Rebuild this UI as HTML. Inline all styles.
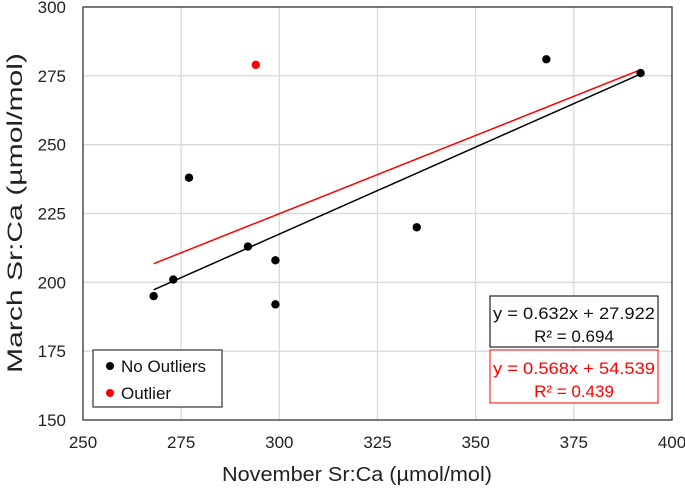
<!DOCTYPE html>
<html><head><meta charset="utf-8"><style>
body{margin:0;background:#fff;}
text{font-family:"Liberation Sans",sans-serif;}
</style></head><body>
<svg id="chart" width="685" height="490" xmlns="http://www.w3.org/2000/svg">
<g id="grid"></g>
<g id="ticks"></g>
<g id="lines"></g>
<g id="pts"></g>
<rect x="83" y="7" width="589" height="413" fill="none" stroke="#333" stroke-width="1.3"/>
<text x="357" y="481" font-size="20" text-anchor="middle" fill="#222" textLength="270" lengthAdjust="spacingAndGlyphs">November Sr:Ca (µmol/mol)</text>
<text transform="translate(22,213) rotate(-90)" font-size="21" text-anchor="middle" fill="#222" textLength="320" lengthAdjust="spacingAndGlyphs">March Sr:Ca (µmol/mol)</text>
<g>
<rect x="93" y="350" width="129" height="57" fill="#fff" stroke="#333" stroke-width="1.2"/>
<circle cx="110" cy="366" r="4" fill="#000"/>
<text x="121" y="372" font-size="17" fill="#111">No Outliers</text>
<circle cx="110" cy="393" r="4" fill="#f00"/>
<text x="121" y="399" font-size="17" fill="#111">Outlier</text>
</g>
<g>
<rect x="490" y="296" width="168" height="51" fill="#fff" stroke="#222" stroke-width="1.2"/>
<text x="574" y="319" font-size="17" text-anchor="middle" fill="#111" textLength="162" lengthAdjust="spacingAndGlyphs">y = 0.632x + 27.922</text>
<text x="574" y="342" font-size="17" text-anchor="middle" fill="#111">R² = 0.694</text>
</g>
<g>
<rect x="490" y="350" width="168" height="53" fill="#fff" stroke="#f00" stroke-width="1"/>
<text x="574" y="374" font-size="17" text-anchor="middle" fill="#f00" textLength="162" lengthAdjust="spacingAndGlyphs">y = 0.568x + 54.539</text>
<text x="574" y="397" font-size="17" text-anchor="middle" fill="#f00">R² = 0.439</text>
</g>
</svg>
<script>
const xTicks=[250,275,300,325,350,375,400];
const yTicks=[150,175,200,225,250,275,300];
const blackX=[268,273,277,292,299,299,335,368,392];
const blackY=[195,201,238,213,208,192,220,281,276];
const redX=[294];
const redY=[279];
const fitBlack=[0.632,27.922];
const fitRed=[0.568,54.539];
const fitRange=[268,392];
const NS="http://www.w3.org/2000/svg";
function sx(v){return 83+(v-250)/150*589;}
function sy(v){return 420-(v-150)/150*413;}
function mk(tag,attrs,parent){const e=document.createElementNS(NS,tag);for(const k in attrs)e.setAttribute(k,attrs[k]);document.getElementById(parent).appendChild(e);return e;}
xTicks.forEach(t=>{
 if(t>250&&t<400){const g=mk('line',{x1:sx(t),x2:sx(t),y1:7,y2:420,stroke:'#d9d9d9','stroke-width':1.3},'grid');
 
 }
 const l=mk('text',{x:sx(t),y:448,'font-size':17,'text-anchor':'middle',fill:'#222'},'ticks');l.textContent=t;
 
 
});
yTicks.forEach(t=>{
 if(t>150&&t<300){const g=mk('line',{x1:83,x2:672,y1:sy(t),y2:sy(t),stroke:'#d9d9d9','stroke-width':1.3},'grid');
 
 }
 const l=mk('text',{x:66,y:sy(t)+6,'font-size':17,'text-anchor':'end',fill:'#222'},'ticks');l.textContent=t;
 
 
});
[[fitRed,'#f00','trendline-with-outlier'],[fitBlack,'#000','trendline-no-outliers']].forEach(([f,c,n])=>{
 const l=mk('line',{x1:sx(fitRange[0]),y1:sy(f[0]*fitRange[0]+f[1]),x2:sx(fitRange[1]),y2:sy(f[0]*fitRange[1]+f[1]),stroke:c,'stroke-width':1.5},'lines');
 
 
});
blackX.forEach((x,i)=>{const p=mk('circle',{cx:sx(x),cy:sy(blackY[i]),r:4.2,fill:'#000'},'pts');
 
 });
redX.forEach((x,i)=>{const p=mk('circle',{cx:sx(x),cy:sy(redY[i]),r:4.2,fill:'#f00'},'pts');
 
 });
</script>
</body></html>
